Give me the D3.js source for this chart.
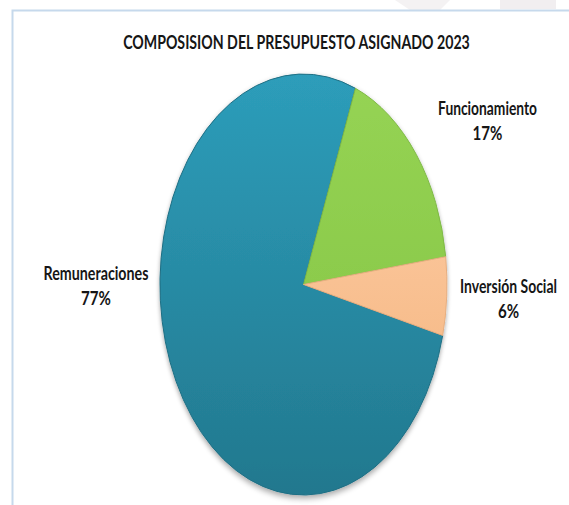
<!DOCTYPE html>
<html>
<head>
<meta charset="utf-8">
<script src="https://cdn.jsdelivr.net/npm/d3@7"></script>
<style>
  html, body { margin: 0; padding: 0; background: #fff; }
  svg { display: block; }
  text { font-family: Lato, "Open Sans", "DejaVu Sans Condensed", sans-serif; font-weight: bold; fill: #161616; }
</style>
</head>
<body>
<script>
const categories = ["Remuneraciones", "Funcionamiento", "Inversión Social"];
const values = [77, 17, 6];
const percentLabels = ["77%", "17%", "6%"];
const title = "COMPOSISION DEL PRESUPUESTO ASIGNADO 2023";

const W = 569, H = 505;
const svg = d3.select("body").append("svg").attr("width", W).attr("height", H);

// faint background watermark shapes
svg.append("rect").attr("x", 500).attr("y", 0).attr("width", 56).attr("height", 9).attr("fill", "#f1eef0");
svg.append("path").attr("d", "M395,0 L450,0 L440,10 L410,10 Z").attr("fill", "#f4f2f3");

// frame
svg.append("path").attr("d", `M12.5,${H} L12.5,10.5 L${W},10.5`)
  .attr("fill", "none").attr("stroke", "#c6d9ec").attr("stroke-width", 2);

// helper: place text centered at (cx, baseline) and squeeze it horizontally to a target width
function fitText(str, cx, y, size, targetW) {
  const t = svg.append("text").attr("x", 0).attr("y", 0).attr("text-anchor", "middle")
    .attr("font-size", size).text(str);
  const w = t.node().getComputedTextLength();
  const sx = targetW ? Math.min(1.2, targetW / w) : 0.84;
  t.attr("transform", `translate(${cx},${y}) scale(${sx},1)`);
  return t;
}

// title
fitText(title, 296.5, 49, 19.5, 347);

const defs = svg.append("defs");
const gradTeal = defs.append("linearGradient").attr("id", "gTeal").attr("x1", 0).attr("y1", 0).attr("x2", 0).attr("y2", 1);
gradTeal.append("stop").attr("offset", "0%").attr("stop-color", "#2d9dba");
gradTeal.append("stop").attr("offset", "100%").attr("stop-color", "#22788e");
const gradGreen = defs.append("linearGradient").attr("id", "gGreen").attr("x1", 0).attr("y1", 0).attr("x2", 0).attr("y2", 1);
gradGreen.append("stop").attr("offset", "0%").attr("stop-color", "#95d353");
gradGreen.append("stop").attr("offset", "100%").attr("stop-color", "#8ccb4c");
const gradPeach = defs.append("linearGradient").attr("id", "gPeach").attr("x1", 0).attr("y1", 0).attr("x2", 0).attr("y2", 1);
gradPeach.append("stop").attr("offset", "0%").attr("stop-color", "#fac396");
gradPeach.append("stop").attr("offset", "100%").attr("stop-color", "#f7bd8c");

const shadow = defs.append("filter").attr("id", "shadow").attr("x", "-10%").attr("y", "-10%").attr("width", "120%").attr("height", "120%");
shadow.append("feGaussianBlur").attr("in", "SourceAlpha").attr("stdDeviation", 0.015);
shadow.append("feOffset").attr("dx", 0).attr("dy", 0.012).attr("result", "ob");
shadow.append("feComponentTransfer").append("feFuncA").attr("type", "linear").attr("slope", 0.35);
const fm = shadow.append("feMerge");
fm.append("feMergeNode");
fm.append("feMergeNode").attr("in", "SourceGraphic");

const fills = ["url(#gTeal)", "url(#gGreen)", "url(#gPeach)"];
const strokes = ["#1f6f84", "#7fb947", "#e7ae7f"];

const cx = 303.5, cy = 284.5, rx = 143.5, ry = 210.5;
const startDeg = -256;
const pie = d3.pie().sort(null).value(d => d)
  .startAngle(startDeg * Math.PI / 180).endAngle((startDeg + 360) * Math.PI / 180);
const arcs = pie(values);
const arc = d3.arc().innerRadius(0).outerRadius(1);

const g = svg.append("g").attr("transform", `translate(${cx},${cy}) scale(${rx},${ry})`);
const slices = g.append("g").attr("filter", "url(#shadow)");
slices.selectAll("path").data(arcs).join("path")
  .attr("d", arc)
  .attr("fill", (d, i) => fills[i])
  .attr("stroke", (d, i) => strokes[i])
  .attr("stroke-width", 1)
  .attr("vector-effect", "non-scaling-stroke");

// labels
const labelPos = [
  { x: 96, y: 280, w: 105 },
  { x: 487.5, y: 115, w: 99 },
  { x: 508.5, y: 293, w: 97 }
];
categories.forEach((c, i) => {
  const p = labelPos[i];
  fitText(c, p.x, p.y, 18, p.w);
  fitText(percentLabels[i], p.x, p.y + 25, 18, null);
});
</script>
</body>
</html>
